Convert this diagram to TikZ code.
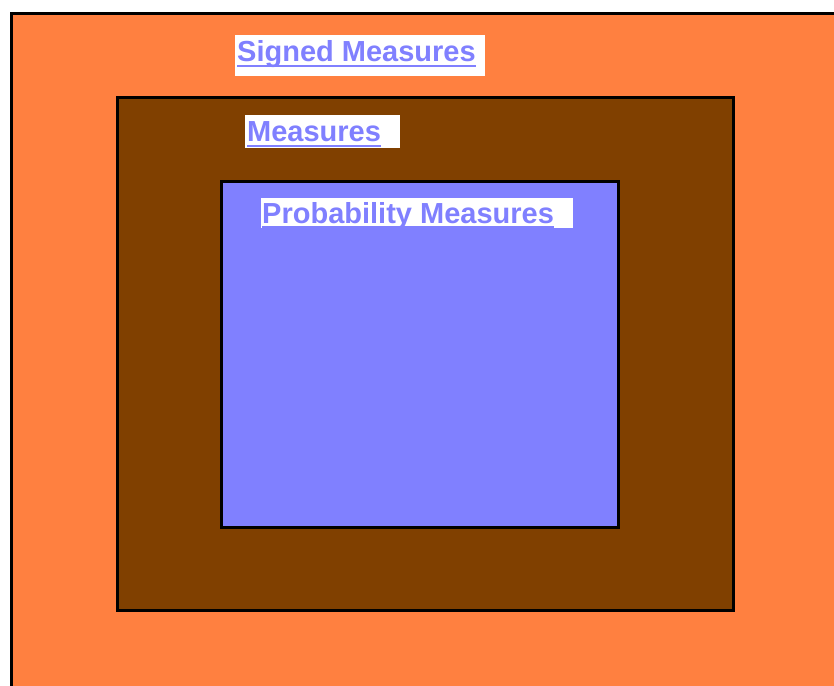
\documentclass[tikz,border=0pt]{standalone}
\usepackage{fontspec}
\setmainfont{Liberation Sans}
\usetikzlibrary{positioning}
\definecolor{signedOrange}{RGB}{255,128,64}
\definecolor{measureBrown}{RGB}{128,64,0}
\definecolor{probBlue}{RGB}{128,128,255}

\tikzset{
  setbox/.style={draw=black,line width=3pt,anchor=north west,inner sep=0pt},
  labelbox/.style={fill=white,anchor=north west,inner sep=0pt},
  labeltext/.style={anchor=base west,inner sep=0pt,text=probBlue,font=\bfseries\fontsize{29}{32}\selectfont},
  underl/.style={draw=probBlue,line width=2pt},
}

\begin{document}
\begin{tikzpicture}[x=1pt,y=-1pt]
\useasboundingbox (0,0) rectangle (834,685);
\clip (0,0) rectangle (834,685);
% nested sets
\node[setbox,fill=signedOrange,minimum width=840pt,minimum height=690pt] (signed) at (9.5,12) {};
\node[setbox,fill=measureBrown,minimum width=615.5pt,minimum height=513.5pt] (measures) at (116,95.5) {};
\node[setbox,fill=probBlue,minimum width=397pt,minimum height=346pt] (prob) at (220,180) {};
% labels
\node[labelbox,minimum width=250pt,minimum height=41pt] (signedBox) at (235,35) {};
\node[labeltext] (signedText) at (237,61) {Signed Measures};
\draw[underl] ([yshift=-5pt]signedText.base west) -- ([yshift=-5pt]signedText.base east);

\node[labelbox,minimum width=155pt,minimum height=33pt] (measuresBox) at (245,115) {};
\node[labeltext] (measuresText) at (247,141) {Measures};
\draw[underl] ([yshift=-5pt]measuresText.base west) -- ([yshift=-5pt]measuresText.base east);

\node[labelbox,minimum width=312pt,minimum height=30pt] (probBox) at (261,198) {};
\node[labeltext] (probText) at (262,223) {Probability Measures};
\draw[underl] ([yshift=-4pt]probText.base west) -- ([yshift=-4pt]probText.base east);
\end{tikzpicture}
\end{document}
